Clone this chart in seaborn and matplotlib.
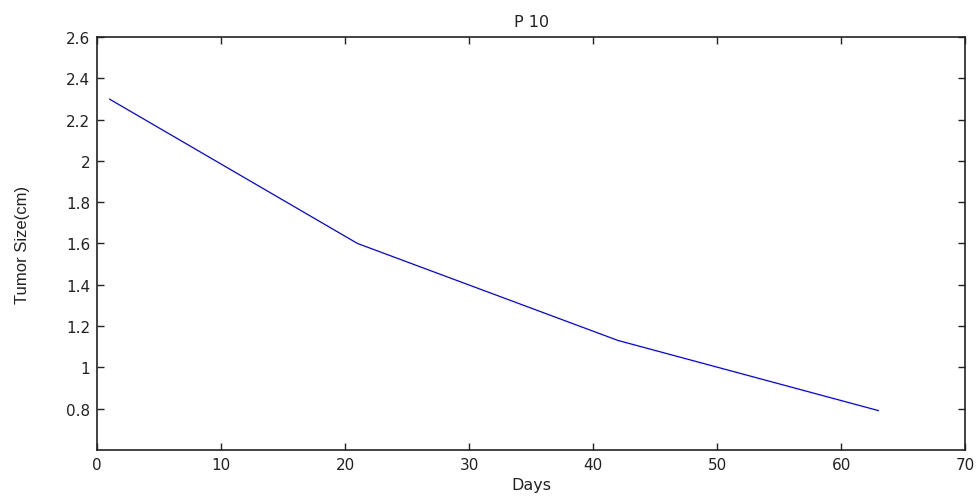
import matplotlib
matplotlib.use("Agg")
import matplotlib.pyplot as plt
import numpy as np
import pandas as pd
import seaborn as sns

# 数据：P 10 肿瘤大小随时间变化
days = [1, 21, 42, 63]
tumor_size = [2.3, 1.6, 1.13, 0.79]

x_ticks = [0, 10, 20, 30, 40, 50, 60, 70]
y_ticks = [0.8, 1, 1.2, 1.4, 1.6, 1.8, 2, 2.2, 2.4, 2.6]
y_tick_labels = ["0.8", "1", "1.2", "1.4", "1.6", "1.8", "2", "2.2", "2.4", "2.6"]

sns.set_style("ticks")
plt.rcParams["font.family"] = ["DejaVu Sans"]

df = pd.DataFrame({"Days": days, "Tumor Size(cm)": tumor_size})

fig = plt.figure(figsize=(9.8, 5.02), dpi=100)
ax = fig.add_axes([0.099, 0.102, 0.886, 0.822])

sns.lineplot(data=df, x="Days", y="Tumor Size(cm)", color="#0000ff",
             linewidth=0.9, ax=ax)

ax.set_xlim(0, 70)
ax.set_ylim(0.6, 2.6)
ax.set_xticks(x_ticks)
ax.set_xticklabels([str(t) for t in x_ticks])
ax.set_yticks(y_ticks)
ax.set_yticklabels(y_tick_labels)

for side in ["top", "right", "bottom", "left"]:
    ax.spines[side].set_visible(True)
    ax.spines[side].set_color("#222222")
    ax.spines[side].set_linewidth(1.2)

ax.tick_params(direction="in", top=True, right=True, length=5, width=1,
               labelsize=11, colors="#222222", pad=5)
ax.set_xlabel("Days", fontsize=11.5, labelpad=4, color="#222222")
ax.set_ylabel("Tumor Size(cm)", fontsize=12, labelpad=26, color="#222222",
              family=["Liberation Sans Narrow", "Liberation Sans", "DejaVu Sans"])
ax.set_title("P 10", fontsize=11.5, pad=8, color="#222222")

fig.savefig("out.png", dpi=100)
